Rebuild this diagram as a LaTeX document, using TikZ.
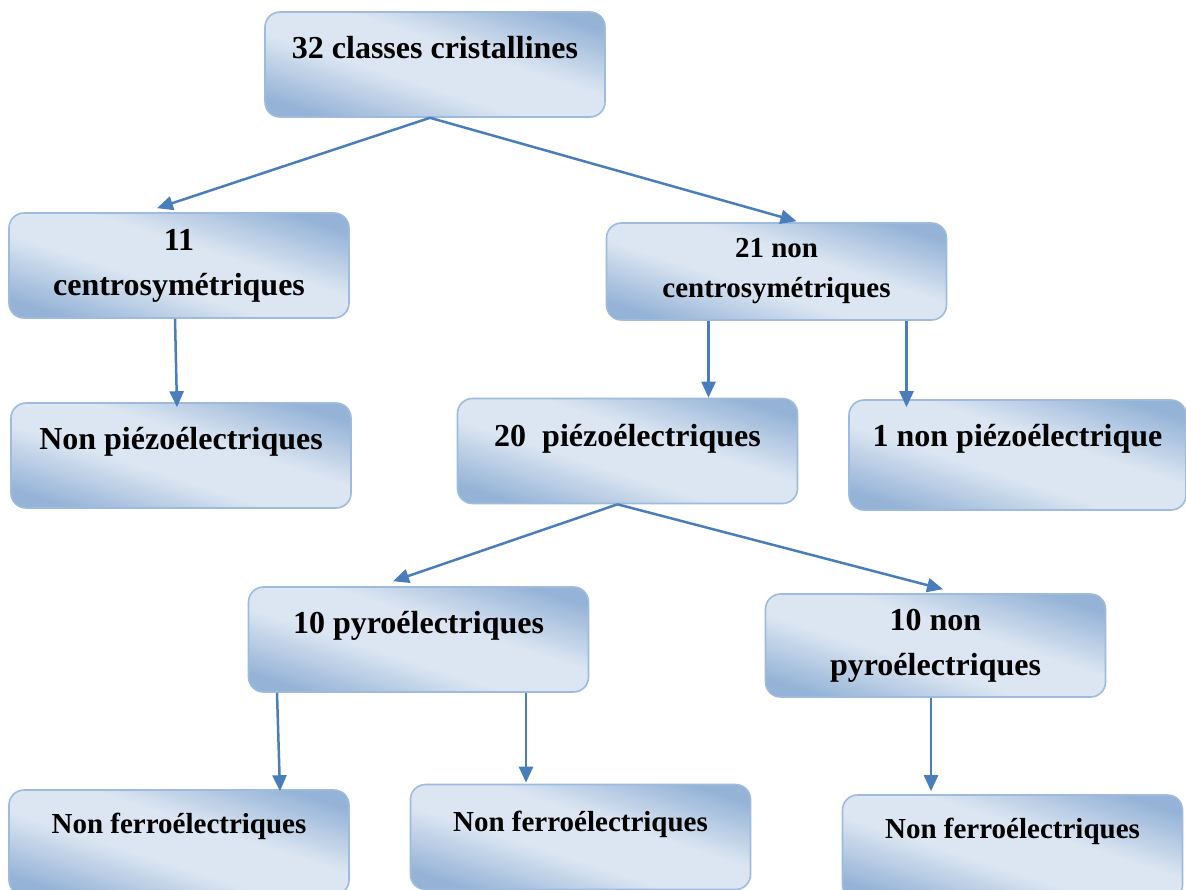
\documentclass[tikz,border=0pt]{standalone}
\usepackage{fontspec}
\setmainfont{Liberation Serif}
\usepackage{tikz}
\usetikzlibrary{arrows.meta}

\definecolor{boxdark}{HTML}{95B3D7}
\definecolor{boxlight}{HTML}{DCE6F2}
\definecolor{boxedge}{HTML}{9EBBDD}
\definecolor{arrblue}{HTML}{4A7EBB}
\pgfdeclarehorizontalshading{boxshade}{100bp}{color(0bp)=(boxdark); color(24bp)=(boxdark); color(43bp)=(boxlight); color(57bp)=(boxlight); color(76bp)=(boxdark); color(100bp)=(boxdark)}

\begin{document}
\begin{tikzpicture}[
   x=0.5pt, y=-0.5pt,
   box/.style={draw=boxedge, line width=0.8pt, rounded corners=7.5pt,
         shading=boxshade, shading angle=72, align=center,
         minimum width=170pt, minimum height=52.5pt, inner sep=0pt,
         font=\bfseries\fontsize{16}{22.5}\selectfont},
   onebox/.style={box, text height=23pt, text depth=29.5pt},
   smallbox/.style={box, font=\bfseries\fontsize{14.5}{20}\selectfont},
   arr/.style={-{Triangle[length=8pt, width=7pt]}, line width=1.25pt, arrblue},
  ]
  \useasboundingbox (0,0) rectangle (1186,889);

  \node[onebox] (classes) at (435,64.5) {32 classes cristallines};
  \node[box] (centro) at (179,265.5) {11\\centrosymétriques};
  \node[smallbox, minimum height=48.5pt] (noncentro) at (776.5,271.5) {21 non\\centrosymétriques};

  \node[onebox] (nonpiezo) at (181,455.5) {Non piézoélectriques};
  \node[onebox, text depth=28pt] (piezo) at (627.5,451) {20\ \ piézoélectriques};
  \node[onebox, minimum width=168.5pt, text depth=32pt] (unpiezo) at (1017.5,455) {1 non piézoélectrique};

  \node[onebox] (pyro) at (418.5,639.5) {10 pyroélectriques};
  \node[box, minimum height=51.5pt] (nonpyro) at (935.5,645.5) {10 non\\pyroélectriques};

  \node[onebox, text height=21.5pt, text depth=31pt, font=\bfseries\fontsize{14.5}{20}\selectfont] (ferroA) at (179,842.5) {Non ferroélectriques};
  \node[onebox, text height=21.5pt, text depth=27.5pt, font=\bfseries\fontsize{14.5}{20}\selectfont] (ferroB) at (580.5,837) {Non ferroélectriques};
  \node[onebox, text height=21.5pt, text depth=31pt, font=\bfseries\fontsize{14.5}{20}\selectfont] (ferroC) at (1012.5,847.5) {Non ferroélectriques};

  \draw[arr] ([xshift=-2.5pt]classes.south) -- ([xshift=-11pt, yshift=2pt]centro.north);
  \draw[arr] ([xshift=-2.5pt]classes.south) -- ([xshift=10pt, yshift=0.5pt]noncentro.north);
  \draw[arr] ([xshift=-2pt]centro.south) -- ([xshift=-2pt, yshift=-2.5pt]nonpiezo.north);
  \draw[arr] ([xshift=-34pt]noncentro.south) -- ([xshift=-34pt]noncentro.south |- piezo.north);
  \draw[arr] ([xshift=65pt]noncentro.south) -- ([xshift=65pt, yshift=-4pt]noncentro.south |- unpiezo.north);
  \draw[arr] ([xshift=-5pt]piezo.south) -- ([xshift=-12.75pt, yshift=2.5pt]pyro.north);
  \draw[arr] ([xshift=-5pt]piezo.south) -- ([xshift=3.75pt, yshift=2pt]nonpyro.north);
  \draw[arr] ([xshift=-70.75pt]pyro.south) -- ([xshift=50.5pt, yshift=-1pt]ferroA.north);
  \draw[arr] ([xshift=53.75pt]pyro.south) -- ([xshift=-27.25pt, yshift=0.5pt]ferroB.north);
  \draw[arr] ([xshift=-2.25pt]nonpyro.south) -- ([xshift=-40.75pt, yshift=1.5pt]ferroC.north);
 \end{tikzpicture}
\end{document}
